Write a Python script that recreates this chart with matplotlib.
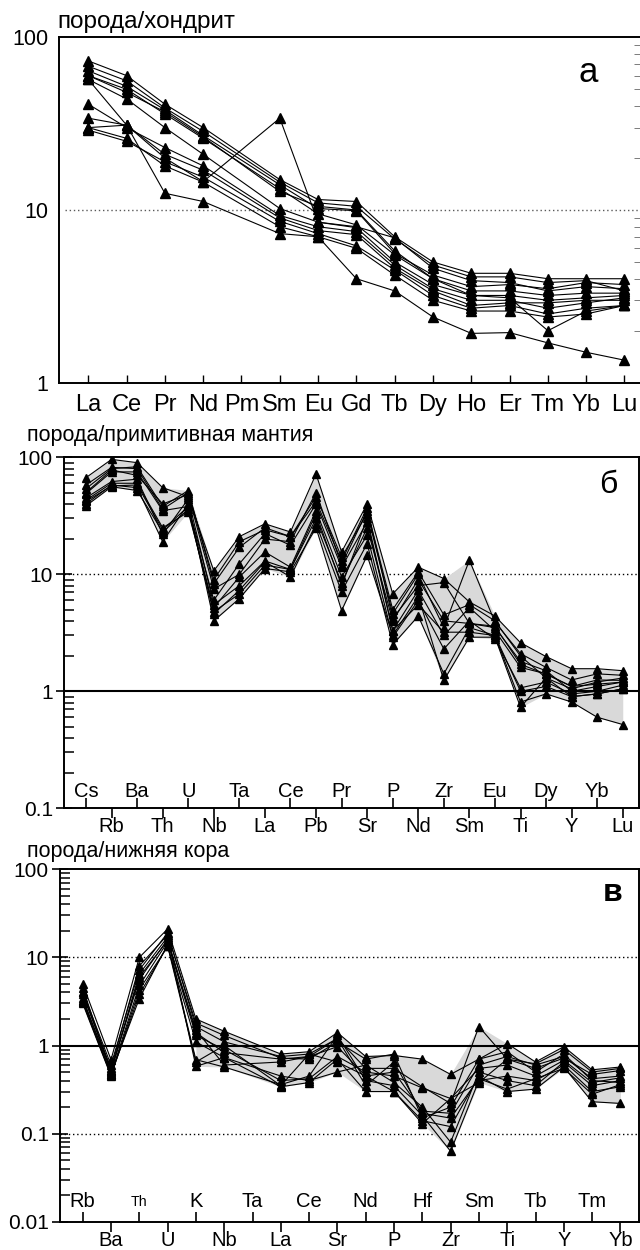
import numpy as np
import matplotlib

matplotlib.use("Agg")
import matplotlib.pyplot as plt
from matplotlib.ticker import LogLocator, NullFormatter
from matplotlib.transforms import blended_transform_factory

plt.rcParams["font.family"] = ["Liberation Sans", "DejaVu Sans"]

nan = np.nan

# panel a: rock / chondrite (Pm not analysed)
REE = ["La", "Ce", "Pr", "Nd", "Pm", "Sm", "Eu", "Gd", "Tb", "Dy", "Ho", "Er", "Tm", "Yb", "Lu"]
ree_samples = [
    [73, 60, 41, 30, nan, 15.0, 11.5, 11.2, 7.0, 5.0, 4.3, 4.3, 4.0, 4.0, 4.0],
    [68, 56, 39, 28.5, nan, 14.5, 11.0, 10.5, 6.8, 4.8, 4.1, 4.1, 3.8, 3.9, 3.4],
    [64, 52, 38, 27, nan, 14.0, 10.2, 9.9, 5.6, 4.2, 3.6, 3.7, 3.5, 3.8, 3.7],
    [60, 50, 36, 26, nan, 13.3, 9.5, 8.2, 5.5, 4.0, 3.4, 3.4, 3.2, 3.3, 3.3],
    [57, 44, 30, 21, nan, 10.2, 8.5, 7.9, 5.0, 3.7, 3.2, 3.2, 3.0, 3.1, 3.2],
    [57, 31, 12.5, 11.2, nan, 7.3, 7.0, 6.0, 4.2, 3.0, 2.6, 2.6, 2.4, 2.5, 2.8],
    [41, 30, 23, 18, nan, 9.3, 8.0, 7.5, 4.8, 3.5, 3.0, 3.0, 2.7, 2.9, 3.1],
    [34, 31, 21, 17, nan, 9.0, 7.6, 7.2, 4.6, 3.4, 2.8, 2.9, 2.9, 3.0, 3.0],
    [30, 31, 20, 14.6, nan, 34, 8.5, 8.0, 6.9, 4.6, 3.9, 3.8, 3.4, 3.6, 3.5],
    [29, 25, 19, 15.5, nan, 8.6, 7.3, 6.2, 4.5, 3.2, 2.7, 2.8, 2.5, 2.7, 2.8],
    [30, 26, 18, 14.5, nan, 8.0, 7.0, 4.0, 3.4, 2.4, 1.93, 1.95, 1.7, 1.5, 1.35],
    [60, 48, 37, 26.5, nan, 12.8, 10.5, 10.0, 5.8, 4.0, 3.2, 3.1, 2.0, 2.6, 2.8],
]

# panel б: rock / primitive mantle
PM_ELEMENTS = ["Cs", "Rb", "Ba", "Th", "U", "Nb", "Ta", "La", "Ce", "Pb", "Pr",
               "Sr", "P", "Nd", "Zr", "Sm", "Eu", "Ti", "Dy", "Y", "Yb", "Lu"]
pm_samples = [
    [67, 96, 90, 55, 46, 10.7, 21, 27, 23, 72, 15.5, 40, 6.8, 11.5, 9.2, 5.8, 4.4, 2.6, 1.98, 1.56, 1.56, 1.5],
    [54, 80, 83, 38, 52, 8.3, 17, 25, 21, 46, 14, 33, 4.6, 10, 3.5, 13.2, 3.9, 2.1, 1.6, 1.25, 1.41, 1.37],
    [49, 75, 75, 35, 38, 6.0, 12.3, 22.3, 17.7, 40, 11.5, 28, 3.3, 7.3, 3.0, 5.2, 3.3, 1.6, 1.41, 1.1, 1.25, 1.24],
    [43, 60, 60, 25, 34, 5.2, 9.5, 15.5, 11.5, 35, 9.5, 21.6, 2.9, 6.0, 2.3, 4.0, 2.8, 1.07, 1.2, 0.95, 1.0, 1.13],
    [38.5, 56, 52, 23, 36, 4.6, 7.3, 12.8, 9.5, 27, 7.1, 18.3, 2.5, 4.4, 1.41, 3.5, 3.0, 0.81, 0.95, 0.81, 0.60, 0.52],
    [40, 58, 55, 19, 40, 4.0, 6.2, 11.2, 10.5, 25, 4.9, 14.5, 3.0, 6.5, 1.24, 2.9, 2.9, 0.73, 1.3, 0.9, 0.95, 1.05],
    [45, 62, 65, 22, 44, 5.5, 8.0, 13, 11, 30, 8.5, 25, 4.0, 9.0, 4.0, 3.8, 3.5, 1.8, 1.5, 1.0, 1.1, 1.2],
    [50, 78, 70, 40, 48, 7.5, 10, 20, 19, 50, 12, 35, 5.0, 10.5, 4.5, 5.5, 4.0, 2.0, 1.3, 1.05, 1.2, 1.3],
    [42, 57, 58, 24, 38, 4.8, 6.8, 12, 11, 33, 8.0, 30, 3.3, 5.5, 3.2, 3.2, 3.0, 1.0, 1.1, 0.9, 0.95, 1.05],
    [58, 82, 80, 36, 50, 9.0, 19, 24, 21, 42, 13, 37, 4.2, 8.0, 8.5, 3.8, 3.6, 1.7, 1.4, 1.1, 1.15, 1.2],
]

# panel в: rock / lower crust (Ta not analysed)
LC_ELEMENTS = ["Rb", "Ba", "Th", "U", "K", "Nb", "Ta", "La", "Ce", "Sr",
               "Nd", "P", "Hf", "Zr", "Sm", "Ti", "Tb", "Y", "Tm", "Yb"]
lc_samples = [
    [5.0, 0.69, 10, 21, 2.0, 1.45, nan, 0.8, 0.85, 1.4, 0.75, 0.77, 0.7, 0.47, 0.7, 1.05, 0.65, 0.97, 0.53, 0.57],
    [4.1, 0.6, 7.2, 19, 1.64, 1.1, nan, 0.75, 0.8, 1.2, 0.55, 0.55, 0.34, 0.22, 1.64, 0.7, 0.55, 0.72, 0.47, 0.52],
    [3.3, 0.53, 5.6, 16, 1.4, 0.83, nan, 0.7, 0.75, 0.97, 0.45, 0.5, 0.18, 0.17, 0.6, 0.75, 0.6, 0.75, 0.42, 0.45],
    [3.0, 0.45, 4.3, 13.3, 1.1, 0.73, nan, 0.34, 0.38, 0.7, 0.3, 0.3, 0.14, 0.12, 0.45, 0.3, 0.32, 0.57, 0.23, 0.22],
    [3.5, 0.48, 3.4, 14, 0.69, 0.57, nan, 0.36, 0.45, 1.3, 0.4, 0.35, 0.16, 0.063, 0.4, 0.45, 0.4, 0.6, 0.3, 0.34],
    [4.5, 0.5, 6.5, 17, 0.58, 0.73, nan, 0.45, 0.4, 0.5, 0.6, 0.38, 0.2, 0.08, 0.5, 0.4, 0.35, 0.65, 0.35, 0.4],
    [3.8, 0.55, 8.0, 18, 1.8, 1.3, nan, 0.72, 0.7, 1.1, 0.7, 0.8, 0.15, 0.2, 0.7, 0.85, 0.5, 0.8, 0.4, 0.38],
    [3.2, 0.47, 4.8, 15, 1.3, 0.9, nan, 0.4, 0.42, 0.75, 0.5, 0.45, 0.33, 0.25, 0.55, 0.6, 0.45, 0.68, 0.38, 0.43],
    [4.0, 0.52, 6.0, 15.5, 1.5, 0.6, nan, 0.65, 0.75, 1.2, 0.35, 0.65, 0.17, 0.15, 0.42, 0.32, 0.42, 0.55, 0.28, 0.36],
    [3.1, 0.46, 3.8, 13.5, 0.65, 1.0, nan, 0.35, 0.8, 0.65, 0.45, 0.3, 0.13, 0.25, 0.38, 0.7, 0.62, 0.9, 0.5, 0.55],
]

FIG_W, FIG_H = 640, 1250
FIELD_COLOR = "#d9d9d9"


def _px_axes(fig, left, top, right, bottom):
    return fig.add_axes([left / FIG_W, 1 - bottom / FIG_H,
                         (right - left) / FIG_W, (bottom - top) / FIG_H])


def _xlim(first_px, step_px, left_px, right_px):
    return (left_px - first_px) / step_px, (right_px - first_px) / step_px


def _plot_samples(ax, samples, ms):
    for row in samples:
        y = np.array(row, dtype=float)
        x = np.arange(len(y))
        ok = np.isfinite(y)
        ax.plot(x[ok], y[ok], color="black", lw=0.8, marker="^", ms=ms,
                mfc="black", mec="black", zorder=3)


def _fill_field(ax, samples, start=0):
    arr = np.array(samples, dtype=float)[:, start:]
    x = np.arange(start, start + arr.shape[1])
    ok = np.isfinite(arr).any(axis=0)
    lo = np.nanmin(arr[:, ok], axis=0)
    hi = np.nanmax(arr[:, ok], axis=0)
    ax.fill_between(x[ok], lo, hi, color=FIELD_COLOR, lw=0, zorder=1)


def _log_y(ax, lo, hi, labels):
    ax.set_yscale("log")
    ax.set_ylim(lo, hi)
    ticks = [float(t) for t in labels]
    ax.set_yticks(ticks, labels)
    ax.yaxis.set_minor_locator(LogLocator(base=10, subs=np.arange(2, 10)))
    ax.yaxis.set_minor_formatter(NullFormatter())


def _alternating_labels(ax, names, up_frac, down_frac, size, small=()):
    trans = blended_transform_factory(ax.transData, ax.transAxes)
    even = list(range(0, len(names), 2))
    odd = list(range(1, len(names), 2))
    ax.set_xticks(odd, [""] * len(odd))
    ax.set_xticks(even, minor=True)
    ax.tick_params(axis="x", which="major", direction="out", length=7, width=1.2)
    ax.tick_params(axis="x", which="minor", direction="in", length=7, width=1.2)
    for i, name in enumerate(names):
        y = up_frac if i % 2 == 0 else down_frac
        fs = size * 0.7 if name in small else size
        ax.text(i, y, name, transform=trans, ha="center", va="center", fontsize=fs)


def _panel_a(fig):
    ax = _px_axes(fig, 58.7, 37.3, 640, 382.7)
    _plot_samples(ax, ree_samples, ms=6.5)
    _log_y(ax, 1, 100, ["1", "10", "100"])
    ax.set_xlim(*_xlim(88.3, 38.3, 58.7, 640))
    ax.axhline(10, xmin=0.01, color="0.35", lw=1, ls=(0, (1, 2)), zorder=0)
    ax.set_xticks(range(len(REE)), [""] * len(REE))
    ax.tick_params(axis="x", direction="in", length=6, width=1)
    trans = blended_transform_factory(ax.transData, ax.transAxes)
    for i, name in enumerate(REE):
        ax.text(i, -0.066, name, transform=trans, ha="center", va="center", fontsize=17)
    ax.tick_params(axis="y", which="both", left=False, labelsize=15.5, pad=4)
    ax.tick_params(axis="y", which="minor", right=True, direction="in", length=4, color="0.4")
    ax.spines["right"].set_visible(False)
    for s in ("left", "top", "bottom"):
        ax.spines[s].set_linewidth(1.4)
    fig.text(588 / FIG_W, 1 - 72 / FIG_H, "а", fontsize=25, ha="center", va="center")
    fig.text(57 / FIG_W, 1 - 22 / FIG_H, "порода/хондрит", fontsize=17.5, ha="left", va="center")


def _panel_b(fig):
    ax = _px_axes(fig, 64, 457.3, 639, 808.3)
    _fill_field(ax, pm_samples)
    _plot_samples(ax, pm_samples, ms=5.5)
    _log_y(ax, 0.1, 100, ["0.1", "1", "10", "100"])
    ax.set_xlim(*_xlim(86, 25.56, 64, 639))
    ax.axhline(10, color="black", lw=1, ls=(0, (1, 2)), zorder=0)
    ax.axhline(1, color="black", lw=1.5, zorder=2)
    _alternating_labels(ax, PM_ELEMENTS, 0.047, -0.052, 14.5)
    ax.tick_params(axis="y", which="major", direction="inout", length=12, width=1.2, labelsize=15, pad=2)
    ax.tick_params(axis="y", which="minor", direction="in", length=7, width=1.1)
    for s in ax.spines.values():
        s.set_linewidth(1.4)
    fig.text(608 / FIG_W, 1 - 485 / FIG_H, "б", fontsize=23, ha="center", va="center")
    fig.text(27 / FIG_W, 1 - 436 / FIG_H, "порода/примитивная мантия", fontsize=15.5,
             ha="left", va="center")


def _panel_c(fig):
    ax = _px_axes(fig, 60, 869.3, 639, 1221.7)
    _fill_field(ax, lc_samples, start=4)
    _plot_samples(ax, lc_samples, ms=5.5)
    _log_y(ax, 0.01, 100, ["0.01", "0.1", "1", "10", "100"])
    ax.set_xlim(*_xlim(82.7, 28.3, 60, 639))
    ax.axhline(10, color="black", lw=1, ls=(0, (1, 2)), zorder=0)
    ax.axhline(0.1, color="black", lw=1, ls=(0, (1, 2)), zorder=0)
    ax.axhline(1, color="black", lw=1.5, zorder=2)
    _alternating_labels(ax, LC_ELEMENTS, 0.057, -0.052, 14.5, small=("Th",))
    ax.tick_params(axis="y", which="major", direction="inout", length=12, width=1.2, labelsize=15, pad=2)
    ax.tick_params(axis="y", which="minor", direction="in", length=7, width=1.1)
    for s in ax.spines.values():
        s.set_linewidth(1.4)
    fig.text(613 / FIG_W, 1 - 893 / FIG_H, "в", fontsize=23, fontweight="bold",
             ha="center", va="center")
    fig.text(27 / FIG_W, 1 - 851 / FIG_H, "порода/нижняя кора", fontsize=15.5,
             ha="left", va="center")


def main():
    fig = plt.figure(figsize=(FIG_W / 100, FIG_H / 100), dpi=100)
    _panel_a(fig)
    _panel_b(fig)
    _panel_c(fig)
    fig.savefig("out.png", dpi=100)
    plt.close(fig)


if __name__ == "__main__":
    main()
